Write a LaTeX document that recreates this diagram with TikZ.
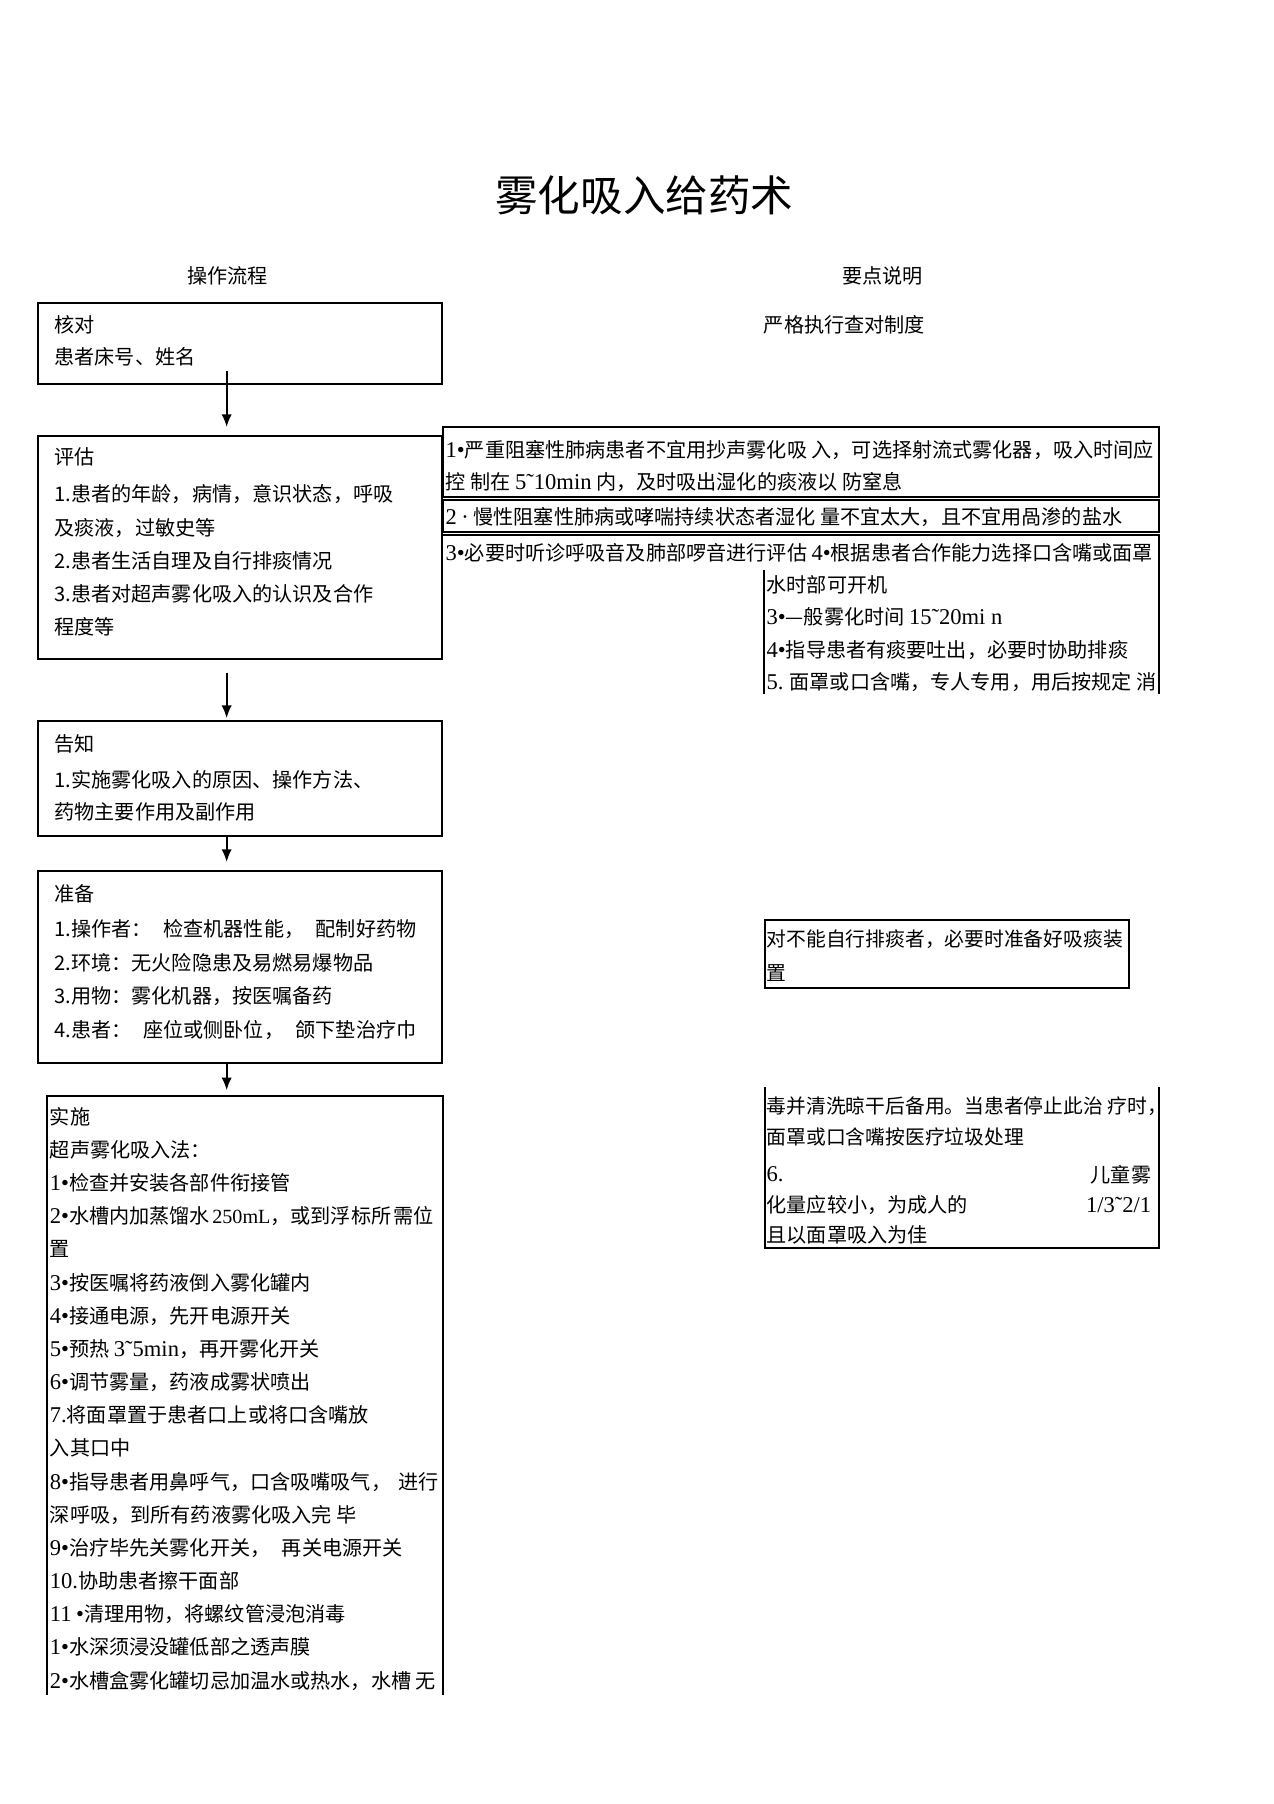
\documentclass[tikz,border=0pt]{standalone}
\usepackage{fontspec}
\setmainfont{Noto Sans CJK SC}
\newfontfamily\lib[Scale=1.12]{Liberation Serif}
\newfontfamily\libs{Liberation Serif}
\usetikzlibrary{arrows.meta,fit,calc}
\newcommand{\bl}{{\lib •}}
\newcommand{\tl}{{\lib ˜}}
\newcommand{\md}{{\lib ·}}
\newcommand{\lt}[1]{{\lib #1}}
\begin{document}
\begin{tikzpicture}[x=0.5pt,y=-0.5pt,
  box/.style={draw, line width=0.85pt, inner sep=0pt},
  ghost/.style={inner sep=0pt},
  txt/.style={anchor=north west, inner sep=0pt, align=left, font=\fontsize{8.75}{14}\selectfont},
  hdr/.style={inner sep=0pt, font=\fontsize{8.75}{14}\selectfont},
  flow/.style={-{Latex[length=5.5pt,width=4.5pt]}, line width=0.8pt},
  edge/.style={line width=0.85pt}]
\useasboundingbox (0,0) rectangle (1107,1568);
\fill[white] (0,0) rectangle (1107,1568);

% title and headers
\node[inner sep=0pt, font=\fontsize{18.5}{20}\selectfont] (title) at (560,170) {雾化吸入给药术};
\node[hdr] (h1) at (198,240) {操作流程};
\node[hdr] (h2) at (767,240) {要点说明};
\node[hdr] (note0) at (734,282) {严格执行查对制度};

% left column boxes
\node[box, fit={(33,263)(384,334)}] (hedui) {};
\node[txt] (hedui-t) at (47,274) {核对\\患者床号、姓名};

\node[box, fit={(33,379)(384,573)}] (pinggu) {};
\node[txt] (pinggu-a) at (47,389) {评估};
\node[txt, font=\fontsize{8.75}{14.4}\selectfont] (pinggu-b) at (47,421)
  {1.患者的年龄，病情，意识状态，呼吸\\及痰液，过敏史等\\2.患者生活自理及自行排痰情况\\3.患者对超声雾化吸入的认识及合作\\程度等};

\node[box, fit={(33,627)(384,727)}] (gaozhi) {};
\node[txt] (gaozhi-a) at (47,638) {告知};
\node[txt] (gaozhi-b) at (47,669) {1.实施雾化吸入的原因、操作方法、\\药物主要作用及副作用};

\node[box, fit={(33,757)(384,924)}] (zhunbei) {};
\node[txt] (zhunbei-a) at (47,768) {准备};
\node[txt, font=\fontsize{8.75}{14.6}\selectfont] (zhunbei-b) at (47,799)
  {1.操作者：\hspace{5pt}检查机器性能，\hspace{5pt}配制好药物\\2.环境：无火险隐患及易燃易爆物品\\3.用物：雾化机器，按医嘱备药\\4.患者：\hspace{5pt}座位或侧卧位，\hspace{5pt}颌下垫治疗巾};

\node[ghost, fit={(41,953)(385,1473)}] (shishi) {};
\draw[edge] (41,1473) -- (41,953) -- (385,953) -- (385,1473);
\node[txt, font=\fontsize{8.75}{14.41}\selectfont] (shishi-t) at (43,962)
  {实施\\超声雾化吸入法：\\\lt{1}\bl 检查并安装各部件衔接管\\\lt{2}\bl 水槽内加蒸馏水\hspace{1pt}{\libs 250mL}，或到浮标所\hspace{1pt}需位\\置\\\lt{3}\bl 按医嘱将药液倒入雾化罐内\\\lt{4}\bl 接通电源，先开电源开关\\\lt{5}\bl 预热 \lt{3˜5min}，再开雾化开关\\\lt{6}\bl 调节雾量，药液成雾状喷出\\\lt{7.}将面罩置于患者口上或将口含嘴放\\入其口中\\\lt{8}\bl 指导患者用鼻呼气，口含吸嘴吸气，\hspace{3pt}进行\\深呼吸，到所有药液雾化吸入完 毕\\\lt{9}\bl 治疗毕先关雾化开关，\hspace{5pt}再关电源开关\\\lt{10.}协助患者擦干面部\\\lt{11} \bl 清理用物，将螺纹管浸泡消毒\\\lt{1}\bl 水深须浸没罐低部之透声膜\\\lt{2}\bl 水槽盒雾化罐切忌加温水或热水，水槽 无};

% arrows
\coordinate (ax) at (197,0);
\draw[flow] ($(ax |- hedui.south)+(0,-12)$) -- ($(ax |- pinggu.north)+(0,-7)$);
\draw[flow] ($(ax |- pinggu.south)+(0,11)$) -- ($(ax |- gaozhi.north)+(0,-2)$);
\draw[flow] (ax |- gaozhi.south) -- ($(ax |- zhunbei.north)+(0,-7)$);
\draw[flow] (ax |- zhunbei.south) -- ($(ax |- shishi.north)+(0,-5)$);

% right column
\node[box, fit={(385,371)(1007,432)}] (na) {};
\node[txt] (na-t) at (387,382)
  {\lt{1}\bl 严重阻塞性肺病患者不宜用抄声雾化吸 入，可选择射流式雾化器，吸入时间应\\控 制在 \lt{5˜10min} 内，及时吸出湿化的痰液以 防窒息};

\node[box, fit={(385,435)(1007,462)}] (nb) {};
\node[txt] (nb-t) at (387,441) {\lt{2} \md{} 慢性阻塞性肺病或哮喘持续状态者湿化 量不宜太大，且不宜用咼渗的盐水};

\draw[edge] (385,465) -- (1007,465) -- (1007,603);
\draw[edge] (664,495) -- (664,603);
\node[txt] (nc-t) at (387,472) {\lt{3}\bl 必要时听诊呼吸音及肺部啰音进行评估 \lt{4}\bl 根据患者合作能力选择口含嘴或面罩};
\node[txt] (nc-u) at (666,500)
  {水时部可开机\\\lt{3}\bl —般雾化时间 \lt{15˜20mi n}\\\lt{4}\bl 指导患者有痰要吐出，必要时协助排痰\\\lt{5.} 面罩或口含嘴，专人专用，用后按规定 消};

\node[box, fit={(665,800)(981,859)}] (nd) {};
\node[txt, font=\fontsize{8.6}{14.5}\selectfont] (nd-t) at (666,808) {对不能自行排痰者，必要时准备好吸痰装\\置};

\draw[edge] (665,945) -- (665,1085) -- (1007,1085) -- (1007,945);
\node[txt, font=\fontsize{8.6}{13.5}\selectfont] (ne-t) at (666,953) {毒并清洗晾干后备用。当患者停止此治\hspace{2pt}疗时，\\面罩或口含嘴按医疗垃圾处理};
\node[hdr, anchor=west] (ne-6) at (666,1021) {\lt{6.}};
\node[hdr, anchor=east] (ne-6r) at (1001,1021) {儿童雾};
\node[hdr, anchor=west] (ne-7) at (666,1047) {化量应较小，为成人的};
\node[hdr, anchor=east] (ne-7r) at (1001,1047) {\lt{1/3˜2/1}};
\node[hdr, anchor=west] (ne-8) at (666,1073) {且以面罩吸入为佳};
\end{tikzpicture}
\end{document}
